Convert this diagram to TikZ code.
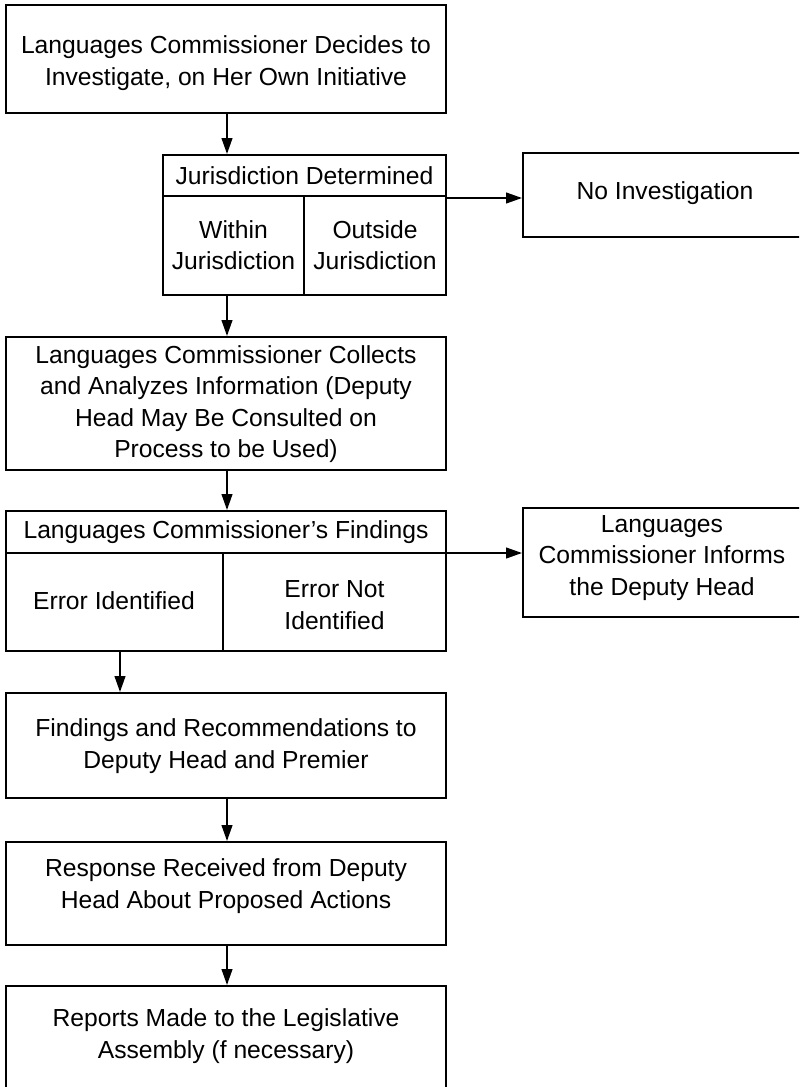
\documentclass[tikz,border=0pt]{standalone}
\usepackage{fontspec}
\setmainfont{Liberation Sans}
\usetikzlibrary{arrows.meta}
\begin{document}
\begin{tikzpicture}[x=0.75pt,y=-0.75pt,
  box/.style 2 args={draw,line width=1.4pt,inner sep=0pt,minimum width=#1*0.75pt,minimum height=#2*0.75pt},
  lbl/.style={align=center,font=\fontsize{18.5}{23.5}\selectfont,inner sep=0pt},
  arr/.style={line width=1.5pt,-{Triangle[length=12pt,width=8pt]}},
  div/.style={line width=1.4pt}]
\useasboundingbox (0,0) rectangle (799,1087);
\clip (0,0) rectangle (799,1087);
% boxes
\node[box={440}{108}] (b1) at (226,59) {};
\node[box={283}{140}] (b2) at (304.5,225) {};
\node[box={284}{84}] (noinv) at (665,195) {};
\node[box={440}{133}] (b3) at (226,403.5) {};
\node[box={440}{140}] (b4) at (226,581) {};
\node[box={284}{109}] (inform) at (665,562.5) {};
\node[box={440}{105}] (b6) at (226,745.5) {};
\node[box={440}{103}] (b7) at (226,893.5) {};
\node[box={440}{114}] (b8) at (226,1043) {};
% texts
\node[lbl] (b1t) at (226,63) {Languages Commissioner Decides to\\Investigate, on Her Own Initiative};
\node[lbl] (b2h) at (304.5,176) {Jurisdiction Determined};
\node[lbl] (b2l) at (233.5,245) {Within\\Jurisdiction};
\node[lbl] (b2r) at (375,245) {Outside\\Jurisdiction};
\node[lbl] (noinvt) at (665,193) {No Investigation};
\node[lbl] (b3t) at (226,404) {Languages Commissioner Collects\\and Analyzes Information (Deputy\\Head May Be Consulted on\\Process to be Used)};
\node[lbl] (b4h) at (226,532) {Languages Commissioner's Findings};
\node[lbl] (b4l) at (114,601) {Error Identified};
\node[lbl] (b4r) at (334.5,605) {Error Not\\Identified};
\node[lbl] (informt) at (662,558) {Languages\\Commissioner Informs\\the Deputy Head};
\node[lbl] (b6t) at (226,746) {Findings and Recommendations to\\Deputy Head and Premier};
\node[lbl] (b7t) at (226,886) {Response Received from Deputy\\Head About Proposed Actions};
\node[lbl] (b8t) at (226,1036) {Reports Made to the Legislative\\Assembly (f necessary)};
% dividers
\coordinate (d2) at (446,196);
\coordinate (v2) at (304,196);
\draw[div] (b2.west |- d2) -- (d2);
\draw[div] (v2) -- (v2 |- b2.south);
\coordinate (d4) at (446,553);
\coordinate (v4) at (223,553);
\draw[div] (b4.west |- d4) -- (d4);
\draw[div] (v4) -- (v4 |- b4.south);
% connectors
\coordinate (a1) at (227,0);
\coordinate (a6) at (120,0);
\draw[arr] (b1.south -| a1) -- (b2.north -| a1);
\draw[arr] (b2.east |- 0,198) -- (noinv.west |- 0,198);
\draw[arr] (b2.south -| a1) -- (b3.north -| a1);
\draw[arr] (b3.south -| a1) -- (b4.north -| a1);
\draw[arr] (d4) -- (d4 -| inform.west);
\draw[arr] (b4.south -| a6) -- (b6.north -| a6);
\draw[arr] (b6.south -| a1) -- (b7.north -| a1);
\draw[arr] (b7.south -| a1) -- (b8.north -| a1);
\end{tikzpicture}
\end{document}
